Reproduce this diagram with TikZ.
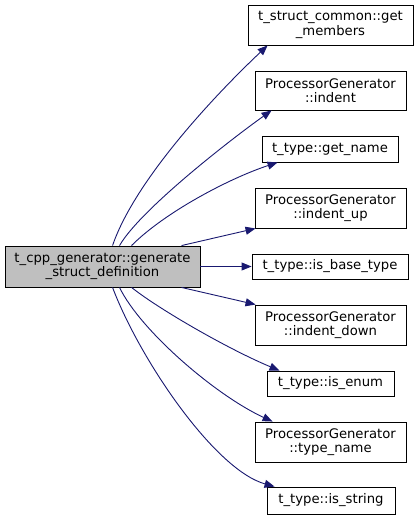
\documentclass[tikz,border=0pt]{standalone}
\usepackage{fontspec}
\setmainfont{DejaVu Sans}
\usetikzlibrary{arrows.meta}
\definecolor{edgeblue}{HTML}{191970}
\definecolor{srcgray}{HTML}{BFBFBF}
\begin{document}
\begin{tikzpicture}[x=1pt,y=-1pt,
  box/.style={draw=black,line width=0.9pt,fill=white,inner sep=0pt,align=center,
    font=\fontsize{13.2}{14.5}\selectfont},
  srcbox/.style={box,fill=srcgray},
  edge/.style={draw=edgeblue,line width=0.9pt,-{Triangle[length=10pt,width=8pt,fill=edgeblue]}}]
\useasboundingbox (0,0) rectangle (419,520);
\node[srcbox,minimum width=195pt,minimum height=41pt] (src) at (102.5,266.5) {t\_cpp\_generator::generate\\\_struct\_definition};
\node[box,minimum width=165pt,minimum height=40pt] (n1) at (330.5,25) {t\_struct\_common::get\\\_members};
\node[box,minimum width=151pt,minimum height=39pt] (n2) at (330.5,90.5) {ProcessorGenerator\\::indent};
\node[box,minimum width=136pt,minimum height=26pt] (n3) at (330,149) {t\_type::get\_name};
\node[box,minimum width=151pt,minimum height=40pt] (n4) at (330.5,208) {ProcessorGenerator\\::indent\_up};
\node[box,minimum width=156pt,minimum height=25pt] (n5) at (330,266.5) {t\_type::is\_base\_type};
\node[box,minimum width=151pt,minimum height=40pt] (n6) at (330.5,325) {ProcessorGenerator\\::indent\_down};
\node[box,minimum width=127pt,minimum height=25pt] (n7) at (330.5,383.5) {t\_type::is\_enum};
\node[box,minimum width=151pt,minimum height=40pt] (n8) at (330.5,442) {ProcessorGenerator\\::type\_name};
\node[box,minimum width=128pt,minimum height=27pt] (n9) at (331,500.5) {t\_type::is\_string};

\draw[edge] ([xshift=108pt]src.north west) .. controls (135,180) and (215,95) .. ([xshift=20pt]n1.south west);
\draw[edge] ([xshift=115pt]src.north west) .. controls (140,210) and (230,140) .. ([xshift=17pt]n2.south west);
\draw[edge] ([xshift=127pt]src.north west) .. controls (165,212) and (230,178) .. ([xshift=16pt]n3.south west);
\draw[edge] ([xshift=177pt]src.north west) -- ([xshift=1pt]n4.south west);
\draw[edge] (src.east) -- (n5.west);
\draw[edge] ([xshift=177pt]src.south west) -- ([xshift=1pt]n6.north west);
\draw[edge] ([xshift=127pt]src.south west) .. controls (160,310) and (230,350) .. ([xshift=13pt]n7.north west);
\draw[edge] ([xshift=115pt]src.south west) .. controls (140,330) and (215,395) .. ([xshift=18pt]n8.north west);
\draw[edge] ([xshift=108pt]src.south west) .. controls (140,360) and (215,470) .. ([xshift=8pt]n9.north west);
\end{tikzpicture}
\end{document}
